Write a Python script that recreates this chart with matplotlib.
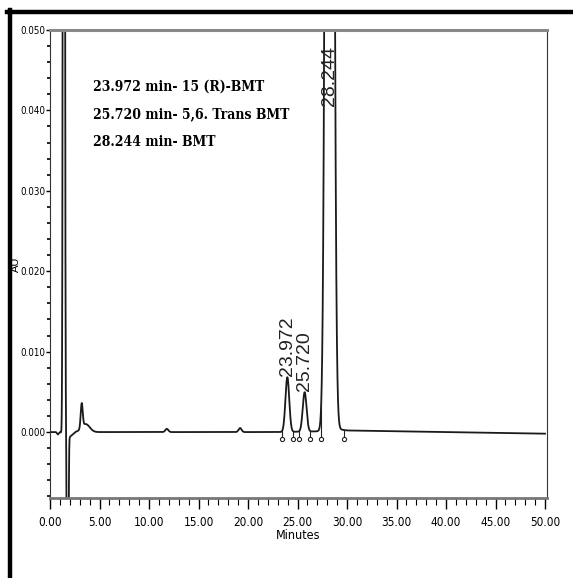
import numpy as np
import matplotlib
matplotlib.use('Agg')
import matplotlib.pyplot as plt
from matplotlib.lines import Line2D
from matplotlib.ticker import MultipleLocator, FormatStrFormatter

# peak table: retention time (min), height (AU), sigma (min)
peak_rt = [1.40, 1.78, 3.20, 3.60, 11.80, 19.20, 23.972, 25.720, 28.244]
peak_height = [0.30, -0.060, 0.0030, 0.0010, 0.0004, 0.0005, 0.0068, 0.0049, 0.35]
peak_sigma = [0.07, 0.06, 0.10, 0.40, 0.15, 0.15, 0.19, 0.19, 0.28]

# baseline drift points (min, AU)
base_t = [0.0, 0.6, 0.8, 1.0, 2.0, 2.6, 5.0, 23.0, 27.5, 28.8, 30.0, 50.0]
base_y = [0.0, 0.0, -0.0003, 0.0, -0.0006, 0.0, 0.0, 0.0, 0.0001, 0.0004, 0.0002, -0.0002]

# integration marks (peak start / end)
mark_t = [23.4, 24.5, 25.1, 26.3, 27.4, 29.7]

# labelled peaks
label_rt = [23.972, 25.720, 28.244]
label_text = ['23.972', '25.720', '28.244']
label_base = [0.0070, 0.0051, 0.0405]

legend_lines = ['23.972 min- 15 (R)-BMT', '25.720 min- 5,6. Trans BMT', '28.244 min- BMT']

t = np.linspace(0, 50, 10001)
au = np.interp(t, base_t, base_y)
for rt, h, s in zip(peak_rt, peak_height, peak_sigma):
    au = au + h * np.exp(-0.5 * ((t - rt) / s) ** 2)

fig = plt.figure(figsize=(5.73, 5.78), dpi=100)
ax = fig.add_axes([0.0873, 0.1384, 0.8673, 0.8097])

ax.plot(t, au, color='#1a1a1a', lw=1.3)
for m in mark_t:
    base = np.interp(m, t, au)
    ax.plot([m, m], [base, -0.0008], color='#222222', lw=0.8)
    ax.plot(m, -0.0009, marker='o', ms=3, mfc='white', mec='#222222', mew=0.8)

for rt, txt, b in zip(label_rt, label_text, label_base):
    ax.text(rt, b, txt, rotation=90, ha='center', va='bottom',
            fontsize=14, family='Liberation Sans', color='#222222')

for i, line in enumerate(legend_lines):
    ax.text(0.087, 0.878 - i * 0.0585, line, transform=ax.transAxes, ha='left', va='center',
            fontsize=10, fontweight='bold', family='DejaVu Serif', fontstretch='condensed')

ax.set_xlim(0, 50.2)
ax.set_ylim(-0.0082, 0.050)
ax.xaxis.set_major_locator(MultipleLocator(5))
ax.xaxis.set_minor_locator(MultipleLocator(1))
ax.yaxis.set_major_locator(MultipleLocator(0.01))
ax.yaxis.set_minor_locator(MultipleLocator(0.002))
ax.xaxis.set_major_formatter(FormatStrFormatter('%.2f'))
ax.yaxis.set_major_formatter(FormatStrFormatter('%.3f'))
ax.tick_params(axis='x', which='major', length=8, width=1, pad=5, labelsize=8.5)
ax.tick_params(axis='x', which='minor', length=5, width=0.8)
ax.tick_params(axis='y', which='major', length=3, width=1, pad=0.5, labelsize=7)
ax.tick_params(axis='y', which='minor', length=2, width=1.2)
for lab in ax.get_xticklabels() + ax.get_yticklabels():
    lab.set_family('DejaVu Sans')
    lab.set_stretch('condensed')

ax.set_xlabel('Minutes', fontsize=9, family='DejaVu Sans', fontstretch='condensed', labelpad=0)
ax.set_ylabel('AU', fontsize=8, family='Liberation Sans')
ax.yaxis.set_label_coords(-0.058, 0.5)

ax.spines['top'].set_color('#888888')
ax.spines['top'].set_linewidth(2.2)
ax.spines['bottom'].set_color('#777777')
ax.spines['bottom'].set_linewidth(2.0)
ax.spines['left'].set_color('#333333')
ax.spines['right'].set_color('#333333')

# black frame lines at top and left of the picture
fig.add_artist(Line2D([0.012, 1.0], [0.9792, 0.9792], transform=fig.transFigure, color='black', lw=3.2))
fig.add_artist(Line2D([0.0166, 0.0166], [0.0, 0.9822], transform=fig.transFigure, color='black', lw=3.2))

fig.savefig('out.png', dpi=100)
